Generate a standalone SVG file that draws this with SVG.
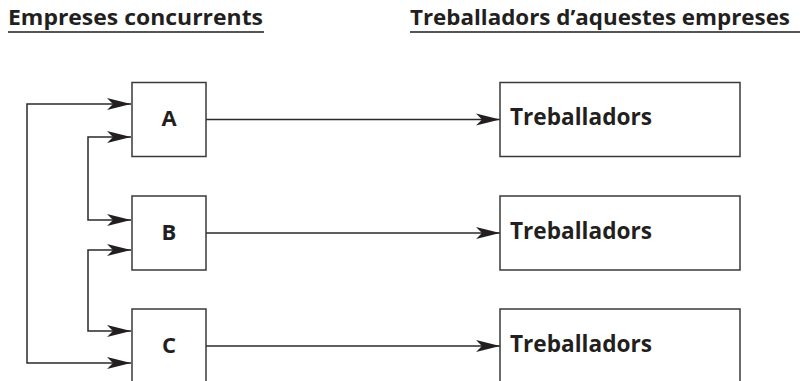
<svg xmlns="http://www.w3.org/2000/svg" width="803" height="381" viewBox="0 0 803 381">
<style>
.box{fill:#fff;stroke:#3a3a3a;stroke-width:1.5}
.conn{fill:none;stroke:#2a2a2a;stroke-width:1.5}
.lbl{font-family:"Open Sans","DejaVu Sans","Liberation Sans",sans-serif;font-weight:bold;fill:#231f20}
.title{font-family:"Open Sans","DejaVu Sans","Liberation Sans",sans-serif;font-weight:bold;fill:#231f20;font-size:21px}
.ul{stroke:#555;stroke-width:2}
</style>
<defs>
<marker id="ah" markerUnits="userSpaceOnUse" markerWidth="26" markerHeight="14" refX="24" refY="6.5" orient="auto-start-reverse" viewBox="0 0 26 14">
<path d="M0,0.5 L24,6.5 L0,12.5 L6,6.5 Z" fill="#231f20"/>
</marker>
</defs>
<g id="titles">
<text class="title" x="8" y="25" textLength="255" lengthAdjust="spacingAndGlyphs">Empreses concurrents</text>
<line class="ul" x1="8" y1="32" x2="264" y2="32"/>
<text class="title" x="410" y="25" textLength="380" lengthAdjust="spacingAndGlyphs">Treballadors d’aquestes empreses</text>
<line class="ul" x1="410" y1="32" x2="800" y2="32"/>
</g>
<g id="connectors">
<path class="conn" d="M131,104 H27 V363 H131" marker-start="url(#ah)" marker-end="url(#ah)"/>
<path class="conn" d="M131,137 H88 V220 H131" marker-start="url(#ah)" marker-end="url(#ah)"/>
<path class="conn" d="M131,250 H88 V331 H131" marker-start="url(#ah)" marker-end="url(#ah)"/>
<path class="conn" d="M206,119.5 H500" marker-end="url(#ah)"/>
<path class="conn" d="M206,233 H500" marker-end="url(#ah)"/>
<path class="conn" d="M206,346 H500" marker-end="url(#ah)"/>
</g>
<g id="nodeA">
<rect class="box" x="132" y="82.5" width="74" height="74"/>
<text class="lbl" x="169" y="125.5" font-size="22" text-anchor="middle">A</text>
</g>
<g id="nodeB">
<rect class="box" x="132" y="196" width="74" height="74"/>
<text class="lbl" x="169" y="240" font-size="22" text-anchor="middle">B</text>
</g>
<g id="nodeC">
<rect class="box" x="132" y="309" width="74" height="74"/>
<text class="lbl" x="169" y="353" font-size="22" text-anchor="middle">C</text>
</g>
<g id="workersA">
<rect class="box" x="500" y="82.5" width="240" height="74"/>
<text class="lbl" x="510" y="125" font-size="23" textLength="142" lengthAdjust="spacingAndGlyphs">Treballadors</text>
</g>
<g id="workersB">
<rect class="box" x="500" y="196" width="240" height="74"/>
<text class="lbl" x="510" y="239" font-size="23" textLength="142" lengthAdjust="spacingAndGlyphs">Treballadors</text>
</g>
<g id="workersC">
<rect class="box" x="500" y="309" width="240" height="74"/>
<text class="lbl" x="510" y="352" font-size="23" textLength="142" lengthAdjust="spacingAndGlyphs">Treballadors</text>
</g>
</svg>
